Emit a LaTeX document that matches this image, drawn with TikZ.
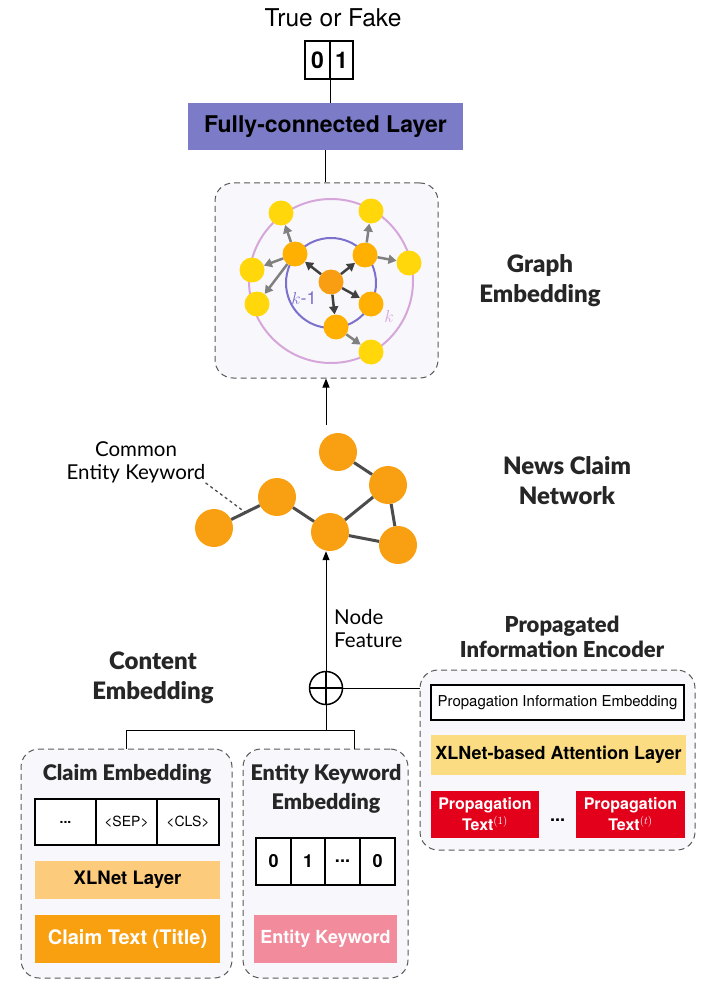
\documentclass[tikz,border=0pt]{standalone}
\usepackage{fontspec}
\setmainfont{TeX Gyre Heros}
\newfontfamily\headfont{Lato}[BoldFont={Lato Black}]
\usetikzlibrary{arrows.meta}

\definecolor{fcblue}{HTML}{7B7BC8}
\definecolor{boxfill}{HTML}{F8F8FC}
\definecolor{ringpink}{HTML}{D6A6DA}
\definecolor{ringpurple}{HTML}{7B70CC}
\definecolor{centerorange}{HTML}{F99E12}
\definecolor{midorange}{HTML}{FFB000}
\definecolor{outyellow}{HTML}{FFD70A}
\definecolor{netorange}{HTML}{F9A012}
\definecolor{xlorange}{HTML}{FDCB7C}
\definecolor{claimorange}{HTML}{F9A010}
\definecolor{kwpink}{HTML}{F28B9C}
\definecolor{attnyellow}{HTML}{FBDC82}
\definecolor{propred}{HTML}{E3001B}

\begin{document}
\begin{tikzpicture}[x=1pt,y=-1pt,
  every node/.style={inner sep=0pt},
  >={Triangle[length=9pt,width=7pt]},
  dashbox/.style={draw=black!65,line width=1pt,dash pattern=on 6pt off 4pt,rounded corners=18pt,fill=boxfill},
  heading/.style={font=\headfont\bfseries\fontsize{24}{30}\selectfont,text=black!85,align=center},
  note/.style={font=\headfont\fontsize{20.5}{23}\selectfont,align=center},
  cell/.style={draw,line width=1.2pt,fill=white},
  gnode/.style={circle,minimum size=25pt},
  netnode/.style={circle,fill=netorange,minimum size=38pt},
  inarrow/.style={-{Triangle[length=8pt,width=9pt]},line width=2.5pt,draw=black!75},
  outarrow/.style={-{Triangle[length=8pt,width=9pt]},line width=2.5pt,draw=black!50},
  netedge/.style={line width=3pt,draw=black!70}]
\useasboundingbox (0,0) rectangle (708,992);

% output
\node[font=\fontsize{24.5}{28}\selectfont] (tf) at (333,18) {True or Fake};
\node[cell,minimum width=25pt,minimum height=38pt,font=\bfseries\fontsize{23}{26}\selectfont] (o0) at (317.5,60) {0};
\node[cell,minimum width=23pt,minimum height=38pt,font=\bfseries\fontsize{23}{26}\selectfont] (o1) at (341.5,60) {1};
\node[fill=fcblue,minimum width=275pt,minimum height=47pt,font=\bfseries\fontsize{23}{26}\selectfont] (fc) at (325.5,126.5) {Fully-connected Layer};
\draw[line width=1pt] (o0.south east) -- (o0.south east |- fc.north);

% graph embedding
\node[dashbox,minimum width=223pt,minimum height=195pt] (ge) at (326.5,280.5) {};
\draw[line width=1pt] (fc.south) -- (fc.south |- ge.north);
\draw[ringpink,line width=2pt] (331,281) circle (82pt);
\draw[ringpurple,line width=2pt] (331,283) circle (45pt);
\node[gnode,fill=centerorange] (gc) at (331,282) {};
\node[gnode,fill=midorange] (gm1) at (295,254) {};
\node[gnode,fill=midorange] (gm2) at (365,255) {};
\node[gnode,fill=midorange] (gm3) at (371,304) {};
\node[gnode,fill=midorange] (gm4) at (336,327) {};
\node[gnode,fill=outyellow] (go1) at (281,213) {};
\node[gnode,fill=outyellow] (go2) at (371,211) {};
\node[gnode,fill=outyellow] (go3) at (409,263) {};
\node[gnode,fill=outyellow] (go4) at (252,270) {};
\node[gnode,fill=outyellow] (go5) at (257,304) {};
\node[gnode,fill=outyellow] (go6) at (371,352) {};
\foreach \t in {gm1,gm2,gm3,gm4}
  \draw[inarrow] (gc) -- (\t);
\foreach \s/\t in {gm1/go1,gm1/go4,gm1/go5,gm2/go2,gm2/go3,gm4/go6}
  \draw[outarrow] (\s) -- (\t);
\node[text=ringpurple,font=\fontsize{18}{20}\selectfont] (lk1) at (304,298) {$k$-1};
\node[text=ringpink,font=\fontsize{18}{20}\selectfont] (lk) at (389,316) {$k$};
\node[heading] (geh) at (540,281) {Graph\\Embedding};

% news claim network
\node[netnode] (n1) at (214,528) {};
\node[netnode] (n2) at (277,497) {};
\node[netnode] (n3) at (330,532) {};
\node[netnode] (n4) at (338,452) {};
\node[netnode] (n5) at (388,485) {};
\node[netnode] (n6) at (398,545) {};
\foreach \s/\t in {n1/n2,n2/n3,n3/n5,n3/n6,n4/n5,n5/n6}
  \draw[netedge] (\s) -- (\t);
\coordinate (netout) at (326,425);
\draw[->,line width=1pt] (netout) -- (netout |- ge.south);
\node[note] (cek) at (136,462) {Common\\Entity Keyword};
\path (n1) -- (n2) coordinate[pos=0.5] (e12);
\draw[line width=1.3pt,black!70,dash pattern=on 3pt off 3pt] (cek.south east) -- (e12);
\node[heading] (ncn) at (567,481) {News Claim\\Network};

% fusion
\node[circle,draw,line width=1.5pt,minimum size=33pt,
  path picture={\draw[line width=1.5pt] (path picture bounding box.north) -- (path picture bounding box.south)
    (path picture bounding box.west) -- (path picture bounding box.east);}] (oplus) at (326,688) {};
\draw[->,line width=1pt] (oplus.north) -- (oplus.north |- n3.south);
\node[note,align=left,anchor=west] (nf) at (334,629) {Node\\Feature};
\node[heading] (ceh) at (153,678) {Content\\Embedding};
\node[heading,font=\headfont\bfseries\fontsize{22}{25}\selectfont] (pieh) at (562,637) {Propagated\\Information Encoder};

% claim embedding
\node[dashbox,minimum width=211pt,minimum height=229pt] (cbox) at (126.5,863.5) {};
\node[font=\headfont\bfseries\fontsize{21.5}{24}\selectfont,text=black!85] (cet) at (127,774) {Claim Embedding};
\node[cell,minimum width=61pt,minimum height=46pt,font=\bfseries\fontsize{14}{16}\selectfont] (t1) at (65.5,822) {...};
\node[cell,minimum width=61pt,minimum height=46pt,font=\fontsize{14}{16}\selectfont] (t2) at (126.5,822) {<SEP>};
\node[cell,minimum width=62pt,minimum height=46pt,font=\fontsize{14}{16}\selectfont] (t3) at (188,822) {<CLS>};
\node[fill=xlorange,minimum width=185pt,minimum height=38pt,font=\bfseries\fontsize{18.5}{22}\selectfont] (xl) at (127.5,880) {XLNet Layer};
\node[fill=claimorange,text=white,minimum width=185pt,minimum height=48pt,font=\bfseries\fontsize{20}{24}\selectfont] (ct) at (127.5,939) {Claim Text (Title)};

% entity keyword embedding
\node[dashbox,minimum width=165pt,minimum height=229pt] (ebox) at (325.5,863.5) {};
\node[font=\headfont\bfseries\fontsize{21.5}{29}\selectfont,text=black!85,align=center] (ekt) at (326,789) {Entity Keyword\\Embedding};
\node[cell,minimum width=35pt,minimum height=47pt,font=\bfseries\fontsize{18}{20}\selectfont] (k1) at (273.5,861.5) {0};
\node[cell,minimum width=34pt,minimum height=47pt,font=\bfseries\fontsize{18}{20}\selectfont] (k2) at (308,861.5) {1};
\node[cell,minimum width=35pt,minimum height=47pt,font=\bfseries\fontsize{18}{20}\selectfont] (k3) at (342.5,861.5) {...};
\node[cell,minimum width=35pt,minimum height=47pt,font=\bfseries\fontsize{18}{20}\selectfont] (k4) at (377.5,861.5) {0};
\node[fill=kwpink,text=white,minimum width=143pt,minimum height=48pt,font=\bfseries\fontsize{18}{22}\selectfont] (ek) at (325.5,939) {Entity Keyword};

% propagated information encoder
\node[dashbox,minimum width=275pt,minimum height=180pt] (pbox) at (557.5,760) {};
\node[draw,line width=1.2pt,fill=white,minimum width=253pt,minimum height=35pt,font=\fontsize{15}{18}\selectfont] (pie) at (557.5,702.5) {Propagation Information Embedding};
\node[fill=attnyellow,minimum width=255pt,minimum height=40pt,font=\bfseries\fontsize{18}{22}\selectfont] (attn) at (558.5,755) {XLNet-based Attention Layer};
\node[fill=propred,text=white,minimum width=108pt,minimum height=47pt,align=center,font=\bfseries\fontsize{16}{21}\selectfont] (pt1) at (485,814.5) {Propagation\\Text$^{(1)}$};
\node[fill=propred,text=white,minimum width=109pt,minimum height=47pt,align=center,font=\bfseries\fontsize{16}{21}\selectfont] (ptt) at (630.5,814.5) {Propagation\\Text$^{(t)}$};
\node[font=\bfseries\fontsize{18}{20}\selectfont] (pdots) at (557.5,820) {...};

% connectors
\draw[line width=1pt] (oplus.east) -- (oplus.east -| pbox.west);
\coordinate (cjoin) at (326,730);
\coordinate (ejoin) at (354,730);
\draw[line width=1pt] (oplus.south) -- (cjoin);
\draw[line width=1pt] (cbox.north) |- (ejoin) -- (ejoin |- ebox.north);
\end{tikzpicture}
\end{document}
